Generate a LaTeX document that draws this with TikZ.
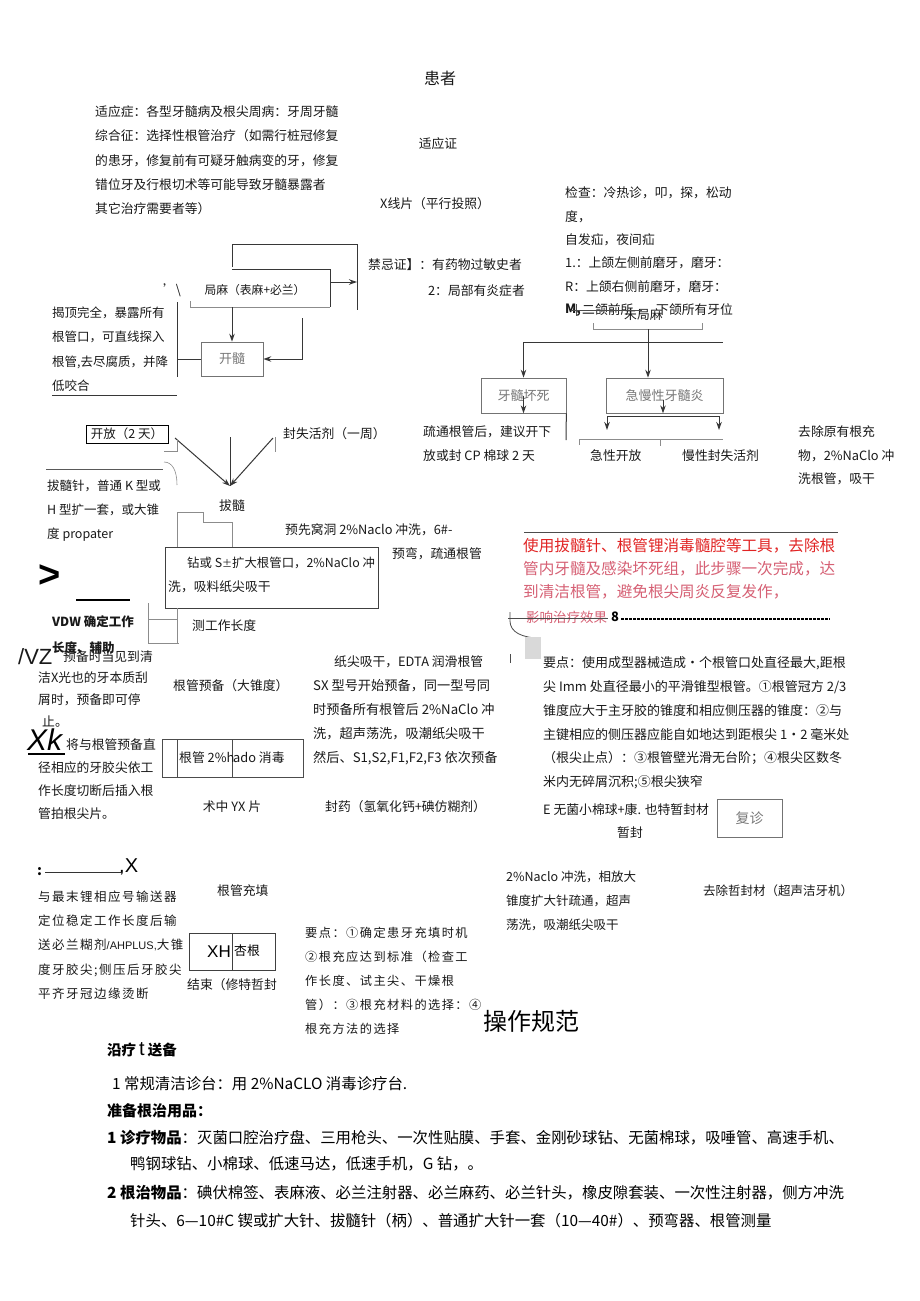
\documentclass[tikz,border=0pt]{standalone}
\usepackage{fontspec}
\setmainfont{Noto Sans CJK SC}
\newfontfamily\cjksp{Noto Sans CJK SC}[LetterSpace=12]
\newfontfamily\latsans{Liberation Sans}
\usetikzlibrary{arrows.meta}
\definecolor{ink}{RGB}{25,25,25}
\definecolor{redA}{RGB}{225,35,35}
\definecolor{pinkA}{RGB}{214,96,116}
\definecolor{grayT}{RGB}{120,120,120}
\definecolor{lineC}{RGB}{55,55,55}
\tikzset{
 tx/.style={anchor=north west, inner sep=0pt, align=left, text=ink, font=\fontsize{12.8}{24.2}\selectfont},
 tc/.style={anchor=center, inner sep=0pt, text=ink, font=\fontsize{12.8}{15}\selectfont},
 ln/.style={draw=lineC, line width=1pt},
 thinln/.style={draw=black!45, line width=0.6pt},
 arr/.style={ln, -{Stealth[length=8pt,width=5.5pt]}},
 bx/.style={draw=black!55, line width=0.7pt, inner sep=0pt},
 bt/.style={anchor=west, inner sep=0pt, text=black, font=\fontsize{15.4}{15}\selectfont},
}
\begin{document}
\begin{tikzpicture}[x=1pt,y=-1pt]
\fill[white] (0,0) rectangle (920,1301);
\useasboundingbox (0,0) rectangle (920,1301);

% ---------- top ----------
\node[tc, font=\fontsize{16}{18}\selectfont] (patient) at (440,78) {患者};
\node[tx] (indic) at (95,105.7) {适应症：各型牙髓病及根尖周病：牙周牙髓\\综合征：选择性根管治疗（如需行桩冠修复\\的患牙，修复前有可疑牙触病变的牙，修复\\错位牙及行根切术等可能导致牙髓暴露者\\其它治疗需要者等）};
\node[tc] (shiyz) at (438,144) {适应证};
\node[tx] (xray) at (380,197.7) {X线片（平行投照）};

\node[tx, font=\fontsize{12.8}{23.4}\selectfont] (check) at (565,186.7) {检查：冷热诊，叩，探，松动\\度，\\自发疝，夜间疝\\1.：上颌左侧前磨牙，磨牙：\\R：上颌右侧前磨牙，磨牙：};
\node[tx, font=\fontsize{12.8}{15}\selectfont\bfseries] (mm) at (565,303.7) {M,};
\node[tx] (mm2) at (582,303.7) {二颌前所};
\node[tx] (mm3) at (656,303.7) {下颌所有牙位};
\node[tx] (weijuma) at (624,308.7) {未局麻};
\coordinate (sk1) at (571,310); \coordinate (sk2) at (642,310);
\draw[line width=0.8pt, black!70] (sk1) -- (sk2);
\coordinate (sk3) at (576,304); \coordinate (sk4) at (576,316);
\draw[line width=0.8pt, black!70] (sk3) -- (sk4);

\node[tx] (contra) at (368,258) {禁忌证】：有药物过敏史者};
\node[tx, anchor=north east] (contra2) at (525,284.7) {2：局部有炎症者};

% frames near 局麻
\coordinate (fa1) at (232,267); \coordinate (fa2) at (232,244);
\coordinate (fa3) at (357,244); \coordinate (fa4) at (357,310);
\draw[ln] (fa1) -- (fa2) -- (fa3) -- (fa4);
\coordinate (fb1) at (232,269); \coordinate (fb2) at (330,269); \coordinate (fb3) at (330,307);
\draw[ln] (fb1) -- (fb2) -- (fb3);
\coordinate (fc1) at (190,301); \coordinate (fc2) at (190,307);
\draw[thinln] (fc1) -- (fc2) -- (fb3);
\coordinate (fd1) at (330,282); \coordinate (fd2) at (357,282);
\draw[arr] (fd1) -- (fd2);
\node[tc, font=\fontsize{11.8}{14}\selectfont] (juma) at (255,290) {局麻（表麻+必兰）};
\node[tc] (tick) at (172,290) {'\textbackslash};

\node[bx, minimum width=62pt, minimum height=34pt, text=grayT, font=\fontsize{13}{15}\selectfont] (kaisui) at (232,359) {开髓};
\coordinate (jmb) at (232,307);
\draw[arr] (jmb) -- (kaisui.north);
\coordinate (r1) at (302,318);
\draw[arr] (r1) |- (kaisui.east);

\node[tx, font=\fontsize{12.5}{24.3}\selectfont] (jieding) at (52,306.7) {揭顶完全，暴露所有\\根管口，可直线探入\\根管,去尽腐质，并降\\低咬合};
\coordinate (lv1) at (177,302); \coordinate (lv2) at (177,377);
\draw[ln] (lv1) -- (lv2);
\draw[ln] (kaisui.west) -- (kaisui.west -| lv1);
\coordinate (ul1) at (52,395); \coordinate (ul2) at (177,395);
\draw[ln] (ul1) -- (ul2);

% ---------- branch ----------
\coordinate (b1) at (593,323); \coordinate (b2) at (593,329);
\coordinate (b3) at (702,329); \coordinate (b4) at (702,323);
\draw[thinln] (b1) -- (b2) -- (b3) -- (b4);
\node[bx, minimum width=85pt, minimum height=35pt, text=grayT, font=\fontsize{13}{15}\selectfont] (necro) at (523.5,395.5) {牙髓坏死};
\node[bx, minimum width=117pt, minimum height=35pt, text=grayT, font=\fontsize{13}{15}\selectfont] (pulp) at (664.5,395.5) {急慢性牙髓炎};
\coordinate (brk) at (648,329);
\draw[arr] (brk) -- (brk |- pulp.north);
\coordinate (hl) at (523.5,342); \coordinate (hr) at (723,342);
\draw[ln] (hl) -- (hr);
\draw[arr] (hl) -- (necro.north);
\draw[arr] (necro.center) -- (necro.south);
\coordinate (pa) at (663,400);
\draw[arr] (pa) -- (pa |- pulp.south);
\coordinate (bl) at (607,416); \coordinate (br) at (719,416);
\coordinate (bl2) at (607,430); \coordinate (br2) at (719,430);
\draw[ln] (bl) -- (br);
\draw[arr] (bl) -- (bl2);
\draw[arr] (br) -- (br2);
\coordinate (nv) at (566,440);
\draw[ln] (necro.south east) -- (nv);
\coordinate (g1) at (579,445); \coordinate (g2) at (579,439); \coordinate (g3) at (723,439);
\draw[thinln] (g1) -- (g2) -- (g3);
\coordinate (g4) at (660,439); \coordinate (g5) at (660,446);
\draw[thinln] (g4) -- (g5);

\node[tx] (shutong) at (423,425.7) {疏通根管后，建议开下\\放或封 CP 棉球 2 天};
\node[tx] (acute) at (590,449.7) {急性开放};
\node[tx] (chronic) at (682,449.7) {慢性封失活剂};
\node[tx, font=\fontsize{12.8}{23.5}\selectfont] (remove) at (798,425.7) {去除原有根充\\物，2\%NaClo 冲\\洗根管，吸干};

% ---------- 拔髓 ----------
\node[draw=black, line width=0.7pt, minimum width=82pt, minimum height=18pt, inner sep=0pt, text=ink, font=\fontsize{12.5}{15}\selectfont] (open2) at (127,434) {开放（2 天）};
\node[tc] (basui) at (232,506) {拔髓};
\coordinate (apex) at (230,486);
\coordinate (c1) at (175,438); \coordinate (c2) at (273,438); \coordinate (c3) at (230,437);
\draw[arr] (c1) -- (apex);
\draw[arr] (c2) -- (apex);
\draw[ln] (c3) -- (apex);
\coordinate (m1) at (177,440); \coordinate (m2) at (177,451); \coordinate (m3) at (164,451);
\draw[thinln] (m1) -- (m2) -- (m3);
\coordinate (m4) at (275,437); \coordinate (m5) at (275,452);
\draw[thinln] (m4) -- (m5);
\coordinate (a1) at (164,462); \coordinate (a2) at (177,485);
\draw[thinln] (a1) .. controls (172,462) and (177,470) .. (a2);
\coordinate (h1) at (46,469); \coordinate (h2) at (163,469);
\draw[line width=0.8pt, black!65] (h1) -- (h2);

\node[tx] (fengshi) at (283,427) {封失活剂（一周）};
\node[tx, font=\fontsize{12.5}{24}\selectfont] (basuizhen) at (47,479.5) {拔髓针，普通 K 型或\\H 型扩一套，或大锥\\度 propater};

\coordinate (k1) at (177,547); \coordinate (k2) at (177,512); \coordinate (k3) at (203,512);
\coordinate (k4) at (203,522); \coordinate (k5) at (232,522); \coordinate (k6) at (232,547);
\draw[thinln] (k1) -- (k2) -- (k3) -- (k4) -- (k5) -- (k6);
\node[draw=black!75, line width=0.7pt, minimum width=213pt, minimum height=61pt, inner sep=0pt] (drill) at (271.5,577.5) {};
\node[tx, font=\fontsize{12.4}{24}\selectfont] (drill1) at (187,556.5) {钻或 S{\fontsize{10}{10}\selectfont ±}扩大根管口，2\%NaClo 冲};
\node[tx] (drill2) at (168,580.5) {洗，吸料纸尖吸干};
\node[tx] (yuxian) at (285,523.5) {预先窝洞 2\%Naclo 冲洗，6\#-};
\node[tx] (yuwan) at (392,547) {预弯，疏通根管};

\node[anchor=center, inner sep=0pt, font=\latsans\fontsize{38}{38}\selectfont\bfseries] (gt) at (50,576) {>};
\coordinate (u1) at (76,600); \coordinate (u2) at (130,600);
\draw[line width=2.6pt] (u1) -- (u2);
\node[tx, font=\fontsize{12.5}{25.5}\selectfont\bfseries] (vdw) at (52,615.5) {VDW 确定工作\\长度、辅助};
\coordinate (s1) at (148,603); \coordinate (s2) at (148,643); \coordinate (s3) at (179,643);
\draw[thinln] (s1) -- (s2) -- (s3);
\coordinate (s4) at (148,619); \coordinate (s5) at (177,619); \coordinate (s6) at (177,643);
\draw[thinln] (s4) -- (s5);
\draw[thinln] (drill.south west -| s5) -- (s6);
\node[tx] (celiang) at (192,619.5) {测工作长度};

% ---------- red block ----------
\coordinate (rl1) at (524,532); \coordinate (rl2) at (838,532);
\draw[line width=0.8pt, black!70] (rl1) -- (rl2);
\node[tx, text=redA, font=\fontsize{15.6}{23}\selectfont] (red1) at (523,538.5) {使用拔髓针、根管锂消毒髓腔等工具，去除根};
\node[tx, text=pinkA, font=\fontsize{15.6}{23}\selectfont] (red2) at (523,561.5) {管内牙髓及感染坏死组，此步骤一次完成，达\\到清洁根管，避免根尖周炎反复发作，};
\node[tx, text=pinkA, font=\fontsize{13.5}{15}\selectfont] (red3) at (526,610.5) {影响治疗效果};
\coordinate (st1) at (508,618); \coordinate (st2) at (608,618);
\draw[line width=1pt, black!70] (st1) -- (st2);
\node[tx, font=\fontsize{13}{15}\selectfont\bfseries, text=black] (eight) at (611,611.5) {8};
\coordinate (dl1) at (621,619); \coordinate (dl2) at (830,619);
\draw[line width=1.3pt, dash pattern=on 3pt off 1pt] (dl1) -- (dl2);
\coordinate (ac1) at (510,612); \coordinate (ac2) at (510,621); \coordinate (ac3) at (540,638);
\draw[line width=0.8pt, black!70] (ac1) -- (ac2) .. controls (510,632) and (522,638) .. (ac3);
\fill[black!15] (525,637) rectangle (541,659);
\coordinate (tk1) at (510,654); \coordinate (tk2) at (510,663);
\draw[line width=0.8pt, black!70] (tk1) -- (tk2);

% ---------- middle left ----------
\node[anchor=west, inner sep=0pt, font=\latsans\fontsize{22}{22}\selectfont, text=ink] (vz) at (18,657) {/VZ};
\node[tx] (yubei) at (63,650.5) {预备时当见到清};
\node[tx, font=\fontsize{12.8}{22}\selectfont] (jie) at (38,671.5) {洁X光也的牙本质刮\\屑时，预备即可停};
\node[tx] (zhi) at (42,715.5) {止。};
\node[anchor=west, inner sep=0pt, font=\latsans\itshape\fontsize{30}{30}\selectfont] (xk) at (27,740) {Xk};
\coordinate (xu1) at (28,754); \coordinate (xu2) at (65,754);
\draw[line width=1.5pt] (xu1) -- (xu2);
\node[tx] (jiang) at (66,738.5) {将与根管预备直};
\node[tx, font=\fontsize{12.8}{23}\selectfont] (jing) at (38,761.5) {径相应的牙胶尖依工\\作长度切断后插入根\\管拍根尖片。};

\node[tx] (prep) at (173,679.5) {根管预备（大锥度）};
\node[draw=black!70, line width=0.7pt, minimum width=141pt, minimum height=38pt, inner sep=0pt] (disbox) at (232.5,758) {};
\coordinate (dv1) at (177,739); \coordinate (dv2) at (177,777);
\coordinate (dv3) at (232,739); \coordinate (dv4) at (232,777);
\draw[draw=black!70, line width=0.7pt] (dv1) -- (dv2);
\draw[draw=black!70, line width=0.7pt] (dv3) -- (dv4);
\node[tx] (dis1) at (179,751.5) {根管 2\%h};
\node[tx] (dis2) at (233,751.5) {ado 消毒};
\node[tc] (yx) at (232,807) {术中 YX 片};

\node[tx] (zhijian) at (334,655.5) {纸尖吸干，EDTA 润滑根管};
\node[tx, font=\fontsize{13.2}{24}\selectfont] (sx) at (313,679.5) {SX 型号开始预备，同一型号同\\时预备所有根管后 2\%NaClo 冲\\洗，超声荡洗，吸潮纸尖吸干\\然后、S1,S2,F1,F2,F3 依次预备};
\node[tx] (fengyao) at (325,800.5) {封药（氢氧化钙+碘仿糊剂）};

% ---------- middle right ----------
\node[tx, font=\fontsize{13}{23.8}\selectfont] (yaodian) at (543,656.5) {要点：使用成型器械造成•个根管口处直径最大,距根\\尖 Imm 处直径最小的平滑锥型根管。①根管冠方 2/3\\锥度应大于主牙胶的锥度和相应侧压器的锥度：②与\\主键相应的侧压器应能自如地达到距根尖 1·2 毫米处\\（根尖止点）：③根管壁光滑无台阶；④根尖区数冬\\米内无碎屑沉积;⑤根尖狭窄};
\node[tx] (wujun) at (543,803.5) {E 无菌小棉球+康. 也特暂封材};
\node[tx] (zanfeng) at (617,826.5) {暂封};
\node[bx, minimum width=65pt, minimum height=38pt, text=grayT, font=\fontsize{14}{16}\selectfont] (fuzhen) at (749.5,818) {复诊};

% ---------- filling ----------
\node[anchor=west, inner sep=0pt, font=\fontsize{14}{14}\selectfont\bfseries] (colon) at (37,872) {:};
\coordinate (cl1) at (45,872); \coordinate (cl2) at (122,872);
\draw[line width=1pt, black!80] (cl1) -- (cl2);
\node[anchor=west, inner sep=0pt, font=\latsans\fontsize{20}{20}\selectfont] (cx) at (119,867) {,X};
\node[tx, font=\cjksp\fontsize{12.5}{24.3}\selectfont] (yuzui) at (38,890.5) {与最末锂相应号输送器\\定位稳定工作长度后输\\送必兰糊剂{\latsans\fontsize{11}{11}\selectfont /AHPLUS,}大锥\\度牙胶尖;侧压后牙胶尖\\平齐牙冠边缘烫断};
\node[tx] (chongtian) at (217,884.5) {根管充填};
\node[draw=black!75, line width=0.7pt, minimum width=86pt, minimum height=37pt, inner sep=0pt] (xhbox) at (232,951.5) {};
\coordinate (xd1) at (232,933); \coordinate (xd2) at (232,970);
\draw[draw=black!75, line width=0.7pt] (xd1) -- (xd2);
\node[anchor=east, inner sep=0pt, font=\latsans\fontsize{17}{17}\selectfont] (xh) at (231,952) {XH};
\node[anchor=west, inner sep=0pt, font=\fontsize{12.8}{15}\selectfont] (xinggen) at (234,951) {杏根};
\node[tx] (jieshu) at (187,978.5) {结束（修特哲封};
\node[tx, font=\cjksp\fontsize{12.2}{24}\selectfont] (yaodian2) at (305,926.5) {要点：①确定患牙充填时机\\②根充应达到标准（检查工\\作长度、试主尖、干燥根\\管）：③根充材料的选择：④\\根充方法的选择};

\node[tx, font=\fontsize{12.5}{24}\selectfont] (naclo) at (506,870.5) {2\%Naclo 冲洗，相放大\\锥度扩大针疏通，超声\\荡洗，吸潮纸尖吸干};
\node[tx, font=\fontsize{12.5}{15}\selectfont] (quchu) at (703,884.5) {去除哲封材（超声洁牙机）};

% ---------- bottom ----------
\node[anchor=west, inner sep=0pt, font=\fontsize{24}{24}\selectfont, text=black] (title) at (483,1021) {操作规范};
\node[anchor=west, inner sep=0pt, font=\bfseries\fontsize{14.5}{15}\selectfont, text=black] (yanliao) at (107,1050) {沿疗\hspace{3pt}{\latsans\mdseries\fontsize{20}{20}\selectfont t}\hspace{3pt}送备};
\node[bt] (l1) at (112,1084) {1 常规清洁诊台：用 2\%NaCLO 消毒诊疗台.};
\node[bt, font=\bfseries\fontsize{15}{15}\selectfont] (l2) at (107,1111) {准备根治用品：};
\node[bt] (l3) at (107,1138) {\textbf{1 诊疗物品}：灭菌口腔治疗盘、三用枪头、一次性贴膜、手套、金刚砂球钻、无菌棉球，吸唾管、高速手机、};
\node[bt] (l4) at (130,1164) {鸭钢球钻、小棉球、低速马达，低速手机，G 钻，。};
\node[bt] (l5) at (107,1193) {\textbf{2 根治物品}：碘伏棉签、表麻液、必兰注射器、必兰麻药、必兰针头，橡皮隙套装、一次性注射器，侧方冲洗};
\node[bt] (l6) at (130,1221) {针头、6—10\#C 锲或扩大针、拔髓针（柄）、普通扩大针一套（10—40\#）、预弯器、根管测量};
\end{tikzpicture}
\end{document}
